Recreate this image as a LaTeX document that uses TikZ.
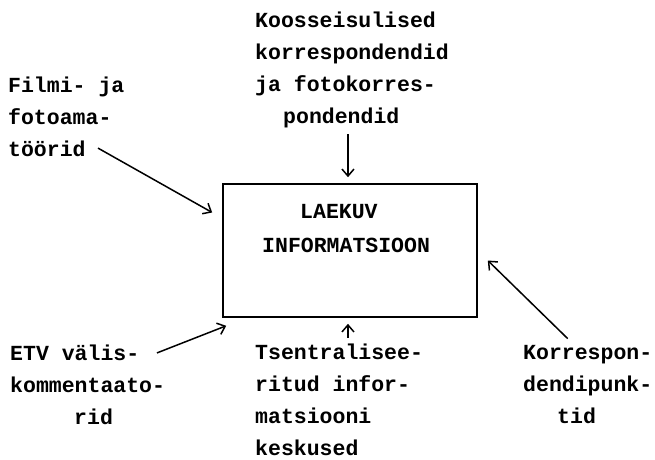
\documentclass[tikz,border=0pt]{standalone}
\usepackage{fontspec}
\setmonofont{Liberation Mono}
\usepackage{tikz}
\usetikzlibrary{arrows.meta}

\begin{document}
\begin{tikzpicture}[x=1pt, y=-1pt, >={Straight Barb[length=7pt, width=12pt]},
        txt/.style = {inner sep=0pt, align=left, anchor=west, font=\fontsize{21.5}{32}\selectfont\ttfamily\bfseries},
        arr/.style = {->, line width=1.5pt}]
        \useasboundingbox (0, 0) rectangle (655, 459);

        \node[draw, line width=1.6pt, minimum width=254pt, minimum height=133pt] (box) at (350, 250.5) {};
        \node[txt] (boxtext) at (262, 229) {\hspace*{38pt}LAEKUV\\[2pt]INFORMATSIOON};

        \node[txt] (koos) at (255, 70) {Koosseisulised\\korrespondendid\\ja fotokorres-\\\hspace*{28pt}pondendid};
        \node[txt] (filmi) at (8, 117) {Filmi- ja\\fotoama-\\töörid};
        \node[txt] (etv) at (10, 385) {ETV välis-\\kommentaato-\\\hspace*{64pt}rid};
        \node[txt] (tsen) at (255, 400) {Tsentralisee-\\ritud infor-\\matsiooni\\keskused};
        \node[txt] (korr) at (523, 385) {Korrespon-\\dendipunk-\\\hspace*{34pt}tid};

        \draw[arr, shorten <=6pt, shorten >=6pt] ([xshift=-4]koos.south) -- ([xshift=-4]koos.south |- box.north);
        \draw[arr] ([xshift=90, yshift=9]filmi.south west) -- ([xshift=-10, yshift=38]box.west);
        \draw[arr] ([xshift=147, yshift=-8]etv.north west) -- ([xshift=4, yshift=-8]box.south west);
        \draw[arr, shorten <=6pt, shorten >=6pt] ([xshift=-4]koos.south |- tsen.north) -- ([xshift=-4]koos.south |- box.south);
        \draw[arr] ([xshift=-20, yshift=7]korr.north) -- ([xshift=10, yshift=-10]box.east);
\end{tikzpicture}
\end{document}
